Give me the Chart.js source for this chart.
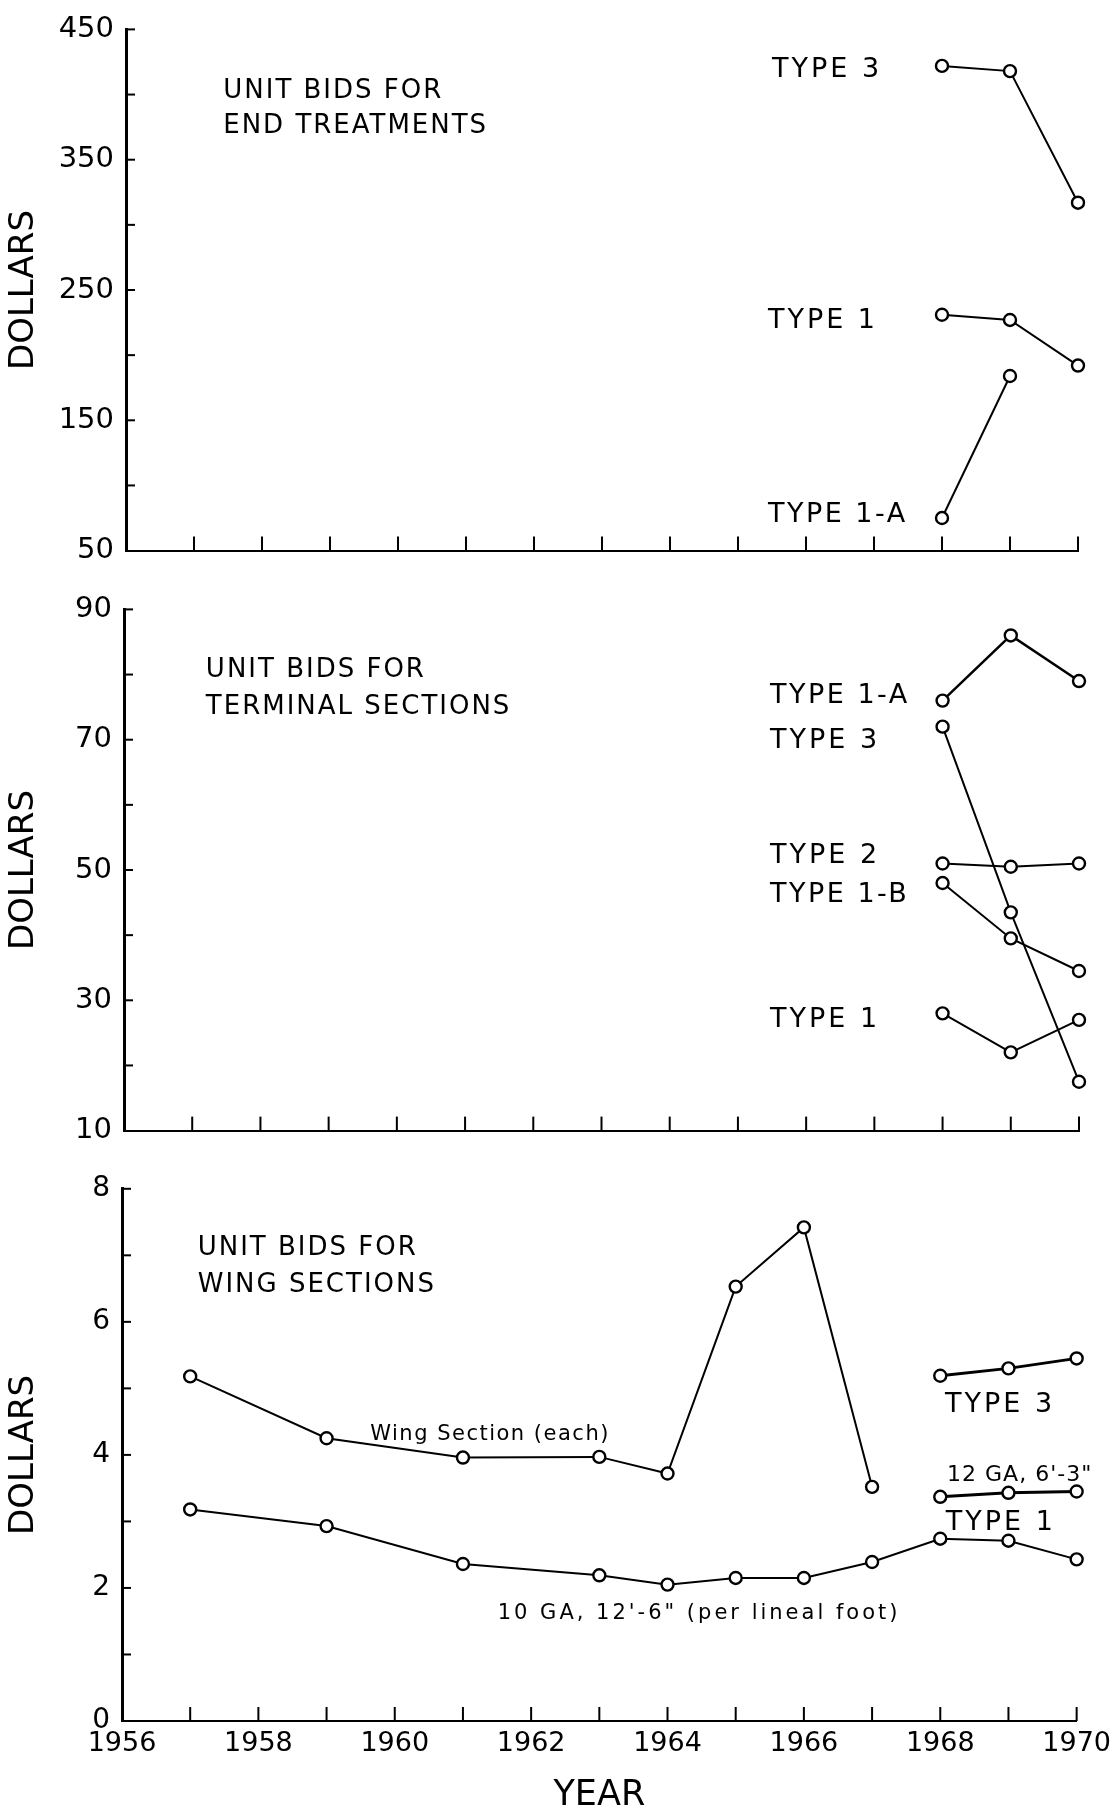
<!DOCTYPE html>
<html lang="en">
<head>
  <meta charset="UTF-8">
  <title>Unit Bids for End Treatments, Terminal Sections and Wing Sections</title>
  <script src="https://cdn.jsdelivr.net/npm/chart.js"></script>
  <style>
    html, body { margin: 0; padding: 0; background: #fff; }
    #page { position: relative; width: 1118px; height: 1811px; overflow: hidden; }
    canvas { position: absolute; left: 0; }
  </style>
</head>
<body>
  <div id="page">
    <canvas id="endChart" width="1118" height="580" style="top:0"></canvas>
    <canvas id="terminalChart" width="1118" height="580" style="top:580px"></canvas>
    <canvas id="wingChart" width="1118" height="651" style="top:1160px"></canvas>
  </div>
  <script>
    // --- data (dollars) ---
    const recentYears = [1968, 1969, 1970];

    // end treatments
    const endType3 = [422, 418, 317];
    const endType1 = [231, 227, 192];
    const endType1A = [75, 184];

    // terminal sections
    const termType1A = [76, 86, 79];
    const termType3 = [72, 43.5, 17.5];
    const termType2 = [51, 50.5, 51];
    const termType1B = [48, 39.5, 34.5];
    const termType1 = [28, 22, 27];

    // wing sections
    const wingYears = [1957, 1959, 1961, 1963, 1964, 1965, 1966, 1967];
    const wingEach = [5.18, 4.25, 3.96, 3.97, 3.72, 6.53, 7.42, 3.52];
    const lineYears = [1957, 1959, 1961, 1963, 1964, 1965, 1966, 1967, 1968, 1969, 1970];
    const ga10PerFoot = [3.18, 2.93, 2.36, 2.19, 2.05, 2.15, 2.15, 2.39, 2.74, 2.71, 2.43];
    const wingType3 = [5.19, 5.30, 5.45];
    const ga12Type1 = [3.37, 3.43, 3.45];

    const yearTickLabels = [1956, 1958, 1960, 1962, 1964, 1966, 1968, 1970];

    Chart.defaults.font.family = '"DejaVu Sans", sans-serif';
    Chart.defaults.color = '#000';

    function pairs(xs, ys) {
      return ys.map((v, i) => ({ x: xs[i], y: v }));
    }

    function series(xs, ys, width) {
      return {
        data: pairs(xs, ys),
        borderColor: '#000',
        borderWidth: width || 2,
        pointRadius: 6,
        pointBorderWidth: 2.4,
        pointBorderColor: '#000',
        pointBackgroundColor: '#fff',
        tension: 0,
        fill: false,
        clip: false
      };
    }

    // short tick marks pointing into the plot, as drawn on the original
    const inwardTicks = {
      id: 'inwardTicks',
      beforeDatasetsDraw(chart) {
        const { ctx, chartArea, scales: { x, y } } = chart;
        ctx.save();
        ctx.strokeStyle = '#000';
        ctx.lineWidth = 2;
        x.ticks.forEach(t => {
          if (t.value === x.min) return;
          const px = x.getPixelForValue(t.value);
          ctx.beginPath();
          ctx.moveTo(px, chartArea.bottom);
          ctx.lineTo(px, chartArea.bottom - 14);
          ctx.stroke();
        });
        y.ticks.forEach(t => {
          if (t.value === y.min) return;
          const py = y.getPixelForValue(t.value);
          ctx.beginPath();
          ctx.moveTo(chartArea.left, py);
          ctx.lineTo(chartArea.left + 9, py);
          ctx.stroke();
        });
        ctx.restore();
      }
    };

    // text labels placed in data units (year, dollars), left aligned on baseline
    function notes(items) {
      return {
        id: 'notes',
        afterDatasetsDraw(chart) {
          const { ctx, scales: { x, y } } = chart;
          ctx.save();
          ctx.fillStyle = '#000';
          ctx.textAlign = 'left';
          ctx.textBaseline = 'alphabetic';
          items.forEach(n => {
            ctx.font = n.size + 'px "DejaVu Sans"';
            ctx.letterSpacing = (n.spacing || 0) + 'px';
            ctx.fillText(n.text, x.getPixelForValue(n.x), y.getPixelForValue(n.y));
          });
          ctx.restore();
        }
      };
    }

    function panel(id, cfg) {
      return new Chart(document.getElementById(id), {
        type: 'line',
        data: { datasets: cfg.datasets },
        options: {
          responsive: false,
          animation: false,
          layout: { padding: { top: cfg.top, right: cfg.right, left: 0, bottom: 0 } },
          plugins: { legend: { display: false }, tooltip: { enabled: false } },
          scales: {
            x: {
              type: 'linear',
              min: 1956,
              max: 1970,
              grid: { display: false, drawTicks: false },
              border: { display: true, color: '#000', width: 2 },
              ticks: {
                display: cfg.showYears,
                stepSize: 1,
                autoSkip: false,
                maxRotation: 0,
                padding: 7,
                font: { size: 27 },
                callback: v => yearTickLabels.includes(v) ? String(v) : ''
              },
              title: {
                display: cfg.showYears,
                text: 'YEAR',
                font: { size: 35, lineHeight: 0.85 },
                padding: { top: 0, bottom: 0 }
              },
              afterFit: s => { s.height = cfg.bottomH; }
            },
            y: {
              min: cfg.yMin,
              max: cfg.yMax,
              grid: { display: false, drawTicks: false },
              border: { display: true, color: '#000', width: 3 },
              ticks: {
                stepSize: cfg.yStep,
                padding: 12,
                font: { size: cfg.yFont },
                callback: v => cfg.yLabel(v) ? String(v) : ''
              },
              title: {
                display: true,
                text: 'DOLLARS',
                font: { size: 34 },
                padding: { top: 4, bottom: 0 }
              },
              afterFit: s => { s.width = cfg.leftW; }
            }
          }
        },
        plugins: [inwardTicks, notes(cfg.notes)]
      });
    }

    panel('endChart', {
      top: 19, right: 40, leftW: 126, bottomH: 16,
      yMin: 50, yMax: 450, yStep: 50, yFont: 29,
      yLabel: v => (v - 50) % 100 === 0,
      showYears: false,
      datasets: [
        series(recentYears, endType3),
        series(recentYears, endType1),
        series(recentYears, endType1A)
      ],
      notes: [
        { text: 'UNIT BIDS FOR', x: 1957.43, y: 397.4, size: 26, spacing: 2 },
        { text: 'END TREATMENTS', x: 1957.43, y: 370.7, size: 26, spacing: 2 },
        { text: 'TYPE 3', x: 1965.5, y: 413.3, size: 27, spacing: 3 },
        { text: 'TYPE 1', x: 1965.44, y: 221, size: 27, spacing: 3 },
        { text: 'TYPE 1-A', x: 1965.44, y: 72, size: 27, spacing: 2.5 }
      ]
    });

    panel('terminalChart', {
      top: 20, right: 39, leftW: 124, bottomH: 17,
      yMin: 10, yMax: 90, yStep: 10, yFont: 29,
      yLabel: v => (v - 10) % 20 === 0,
      showYears: false,
      datasets: [
        series(recentYears, termType1A, 2.5),
        series(recentYears, termType3),
        series(recentYears, termType2),
        series(recentYears, termType1B),
        series(recentYears, termType1)
      ],
      notes: [
        { text: 'UNIT BIDS FOR', x: 1957.2, y: 79.6, size: 26, spacing: 2 },
        { text: 'TERMINAL SECTIONS', x: 1957.2, y: 74.0, size: 26, spacing: 2 },
        { text: 'TYPE 1-A', x: 1965.47, y: 75.6, size: 27, spacing: 2.5 },
        { text: 'TYPE 3', x: 1965.47, y: 68.7, size: 27, spacing: 3 },
        { text: 'TYPE 2', x: 1965.47, y: 51.0, size: 27, spacing: 3 },
        { text: 'TYPE 1-B', x: 1965.47, y: 45.1, size: 27, spacing: 2.5 },
        { text: 'TYPE 1', x: 1965.47, y: 25.9, size: 27, spacing: 3 }
      ]
    });

    panel('wingChart', {
      top: 20, right: 41, leftW: 122, bottomH: 90,
      yMin: 0, yMax: 8, yStep: 1, yFont: 28,
      yLabel: v => v % 2 === 0,
      showYears: true,
      datasets: [
        series(wingYears, wingEach),
        series(lineYears, ga10PerFoot),
        series(recentYears, wingType3, 2.8),
        series(recentYears, ga12Type1, 3)
      ],
      notes: [
        { text: 'UNIT BIDS FOR', x: 1957.11, y: 7.01, size: 26, spacing: 2 },
        { text: 'WING SECTIONS', x: 1957.11, y: 6.45, size: 26, spacing: 2 },
        { text: 'Wing Section (each)', x: 1959.64, y: 4.22, size: 21, spacing: 1.5 },
        { text: '10 GA, 12\'-6" (per lineal foot)', x: 1961.51, y: 1.54, size: 21, spacing: 3 },
        { text: 'TYPE 3', x: 1968.07, y: 4.65, size: 27, spacing: 3 },
        { text: '12 GA, 6\'-3"', x: 1968.1, y: 3.61, size: 22, spacing: 1 },
        { text: 'TYPE 1', x: 1968.08, y: 2.875, size: 27, spacing: 3 }
      ]
    });
  </script>
</body>
</html>
